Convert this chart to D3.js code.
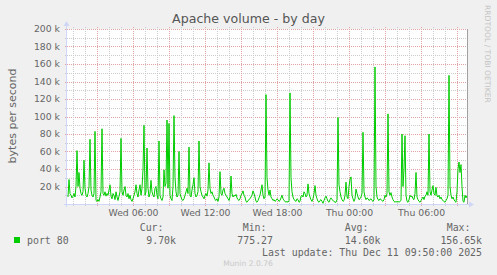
<!DOCTYPE html>
<html>
<head>
<meta charset="utf-8">
<script src="https://cdn.jsdelivr.net/npm/d3@7"></script>
<style>
  body { margin: 0; background: #f0f0f0; }
  svg { display: block; }
  text { font-family: "DejaVu Sans", sans-serif; fill: #666; }
  .mono { font-family: "DejaVu Sans Mono", monospace; font-size: 9.9px; }
</style>
</head>
<body>
<div id="chart"></div>
<script>
// port 80 traffic, k bytes/s, one sample per 5 minutes (Wed 00:35 .. Thu 09:50)
var values = [
  8, 28, 12, 10, 7, 9, 12, 8, 20, 61,
  20, 36, 18, 12, 10, 14, 50, 18, 10, 8,
  12, 20, 74, 16, 10, 8, 12, 83, 4, 3,
  5, 3, 8, 14, 86, 12, 10, 14, 9, 12,
  10, 16, 22, 9, 6, 12, 10, 5, 14, 8,
  4, 9, 14, 75, 14, 10, 16, 20, 10, 8,
  12, 6, 10, 5, 3, 6, 10, 14, 22, 12,
  8, 16, 22, 10, 18, 40, 90, 10, 14, 64,
  18, 8, 12, 27, 14, 10, 8, 18, 20, 10,
  6, 72, 10, 6, 4, 8, 39, 20, 24, 96,
  18, 92, 10, 6, 4, 20, 101, 30, 14, 8,
  10, 60, 12, 8, 5, 4, 6, 10, 14, 18,
  12, 65, 10, 8, 16, 22, 30, 12, 8, 10,
  14, 72, 20, 14, 10, 8, 6, 10, 12, 9,
  16, 47, 18, 12, 14, 10, 8, 5, 4, 6,
  3, 8, 37, 12, 10, 16, 18, 12, 10, 8,
  6, 4, 8, 32, 12, 8, 10, 9, 11, 7,
  5, 4, 6, 10, 12, 15, 10, 8, 3, 2,
  4, 5, 6, 8, 10, 15, 12, 8, 3, 2,
  4, 7, 10, 16, 22, 10, 6, 8, 125, 30,
  16, 10, 16, 8, 6, 4, 5, 3, 4, 6,
  5, 3, 4, 7, 10, 6, 4, 3, 2, 3,
  2, 4, 127, 30, 14, 8, 5, 4, 3, 6,
  5, 2, 3, 9, 10, 8, 14, 12, 8, 10,
  23, 12, 8, 5, 3, 6, 12, 21, 10, 6,
  3, 2, 4, 5, 3, 0.78, 4, 7, 9, 6,
  3, 2, 5, 7, 5, 4, 3, 2, 2, 5,
  99, 22, 14, 8, 5, 3, 4, 10, 25, 8,
  6, 20, 28, 31, 10, 6, 3, 6, 17, 12,
  8, 5, 6, 8, 12, 82, 14, 8, 5, 7,
  6, 4, 5, 6, 4, 3, 5, 156.65, 20, 8,
  5, 4, 6, 5, 4, 3, 5, 10, 8, 12,
  103, 14, 10, 13, 8, 5, 3, 2, 3, 2,
  3, 2, 3, 4, 80, 20, 40, 78, 10, 3,
  2, 5, 10, 8, 9, 6, 5, 12, 36, 8,
  5, 3, 2, 4, 6, 8, 5, 9, 10, 14,
  10, 80, 14, 10, 16, 21, 12, 10, 19, 9,
  8, 10, 6, 8, 5, 4, 3, 2, 4, 6,
  10, 147, 20, 10, 6, 8, 5, 3, 2, 14,
  40, 48, 36, 45, 20, 3, 2, 10, 7, 9.7
];
var startTime = new Date(2025, 11, 10, 0, 35);
var stepMinutes = 5;

var yTicks = [20, 40, 60, 80, 100, 120, 140, 160, 180, 200];
var xTickTimes = [
  new Date(2025, 11, 10, 6), new Date(2025, 11, 10, 12), new Date(2025, 11, 10, 18),
  new Date(2025, 11, 11, 0), new Date(2025, 11, 11, 6)
];
var xTickLabels = ["Wed 06:00", "Wed 12:00", "Wed 18:00", "Thu 00:00", "Thu 06:00"];

var legendLabels = ["Cur:", "Min:", "Avg:", "Max:"];
var legendValues = ["9.70k", "775.27", "14.60k", "156.65k"];

var margin = { top: 29, left: 67 };
var width = 400, height = 175;

var svg = d3.select("#chart").append("svg")
  .attr("width", 497)
  .attr("height", 275);

svg.append("rect").attr("width", 497).attr("height", 275).attr("fill", "#f0f0f0");

var g = svg.append("g")
  .attr("transform", "translate(" + margin.left + "," + margin.top + ")");

var x = d3.scaleTime()
  .domain([new Date(2025, 11, 10, 0, 30), new Date(2025, 11, 11, 9, 50)])
  .range([0, width]);
var y = d3.scaleLinear().domain([0, 200]).range([height, 0]);

g.append("rect").attr("width", width).attr("height", height).attr("fill", "#fff");

// grid: 10k minor, 20k major; hourly minor, 3-hourly major
var minorY = d3.range(10, 201, 10);
g.selectAll(".hgrid").data(minorY).enter().append("line")
  .attr("x1", -2).attr("x2", width + 2)
  .attr("y1", function(d) { return Math.round(y(d)) + 0.5; })
  .attr("y2", function(d) { return Math.round(y(d)) + 0.5; })
  .attr("stroke", function(d) { return d % 20 === 0 ? "#e4a4a4" : "#cccccc"; })
  .attr("stroke-dasharray", "1,1")
  .attr("shape-rendering", "crispEdges");

var hours = d3.timeHour.range(new Date(2025, 11, 10, 1), new Date(2025, 11, 11, 9, 30));
g.selectAll(".vgrid").data(hours).enter().append("line")
  .attr("x1", function(d) { return Math.round(x(d)) + 0.5; })
  .attr("x2", function(d) { return Math.round(x(d)) + 0.5; })
  .attr("y1", -2).attr("y2", height + 2)
  .attr("stroke", function(d) { return d.getHours() % 3 === 0 ? "#e4a4a4" : "#cccccc"; })
  .attr("stroke-dasharray", "1,1")
  .attr("shape-rendering", "crispEdges");

// the series
var line = d3.line()
  .x(function(d, i) { return x(new Date(startTime.getTime() + i * stepMinutes * 60000)); })
  .y(function(d) { return y(d); });

g.append("path")
  .datum(values)
  .attr("fill", "none")
  .attr("stroke", "#00cc00")
  .attr("stroke-width", 1)
  .attr("d", line);

// right frame line
g.append("line")
  .attr("x1", width + 0.5).attr("x2", width + 0.5)
  .attr("y1", 0).attr("y2", height)
  .attr("stroke", "#a0a0a0");

// axes lines + arrows
g.append("line").attr("x1", -3).attr("x2", width + 3)
  .attr("y1", height + 0.5).attr("y2", height + 0.5).attr("stroke", "#cfd6f8");
g.append("line").attr("x1", -0.5).attr("x2", -0.5)
  .attr("y1", -3).attr("y2", height + 3).attr("stroke", "#cfd6f8");
g.append("path").attr("d", "M-3.5,-3 L2.5,-3 L-0.5,-8 Z").attr("fill", "#cfd6f8");
g.append("path").attr("d", "M" + (width + 2) + "," + (height - 2.5) + " L" + (width + 2) + "," + (height + 3.5) + " L" + (width + 7) + "," + (height + 0.5) + " Z").attr("fill", "#cfd6f8");

// tick labels
var xAxis = g.append("g")
  .attr("transform", "translate(0," + height + ")")
  .call(d3.axisBottom(x).tickValues(xTickTimes)
    .tickFormat(function(d, i) { return xTickLabels[i]; })
    .tickSize(0).tickPadding(5.5));
var yAxis = g.append("g")
  .call(d3.axisLeft(y).tickValues(yTicks)
    .tickFormat(function(d) { return d + " k"; })
    .tickSize(0).tickPadding(7));
[xAxis, yAxis].forEach(function(a) {
  a.select(".domain").remove();
  a.selectAll("text")
    .attr("font-family", "DejaVu Sans, sans-serif")
    .attr("font-size", "9.3px")
    .attr("fill", "#666");
});

// titles
svg.append("text").attr("x", 248.5).attr("y", 22.5)
  .attr("text-anchor", "middle").attr("font-size", "12.6px").style("fill", "#555")
  .text("Apache volume - by day");
svg.append("text")
  .attr("transform", "translate(15.5,116) rotate(-90)")
  .attr("text-anchor", "middle").attr("font-size", "11px")
  .text("bytes per second");
svg.append("text")
  .attr("transform", "translate(485,5) rotate(90)")
  .attr("font-size", "7.6px").style("fill", "#c4c4c4")
  .text("RRDTOOL / TOBI OETIKER");

// legend
svg.append("rect").attr("x", 14).attr("y", 237).attr("width", 6).attr("height", 6)
  .attr("fill", "#00cc00");
svg.append("text").attr("class", "mono").attr("x", 27).attr("y", 243.5).text("port 80");

var labelEnds = [163.5, 266.5, 368.5, 470.5];
var valueEnds = [176, 273, 380.5, 482];
svg.selectAll(".lgl").data(legendLabels).enter().append("text")
  .attr("class", "mono").attr("text-anchor", "end")
  .attr("x", function(d, i) { return labelEnds[i]; })
  .attr("y", 231)
  .text(function(d) { return d; });
svg.selectAll(".lgv").data(legendValues).enter().append("text")
  .attr("class", "mono").attr("text-anchor", "end")
  .attr("x", function(d, i) { return valueEnds[i]; })
  .attr("y", 243.5)
  .text(function(d) { return d; });

svg.append("text").attr("class", "mono").attr("text-anchor", "end")
  .attr("x", 482).attr("y", 255.5)
  .text("Last update: Thu Dec 11 09:50:00 2025");

svg.append("text").attr("x", 248).attr("y", 266)
  .attr("text-anchor", "middle").attr("font-size", "7.6px").style("fill", "#c8c8c8")
  .text("Munin 2.0.76");
</script>
</body>
</html>
